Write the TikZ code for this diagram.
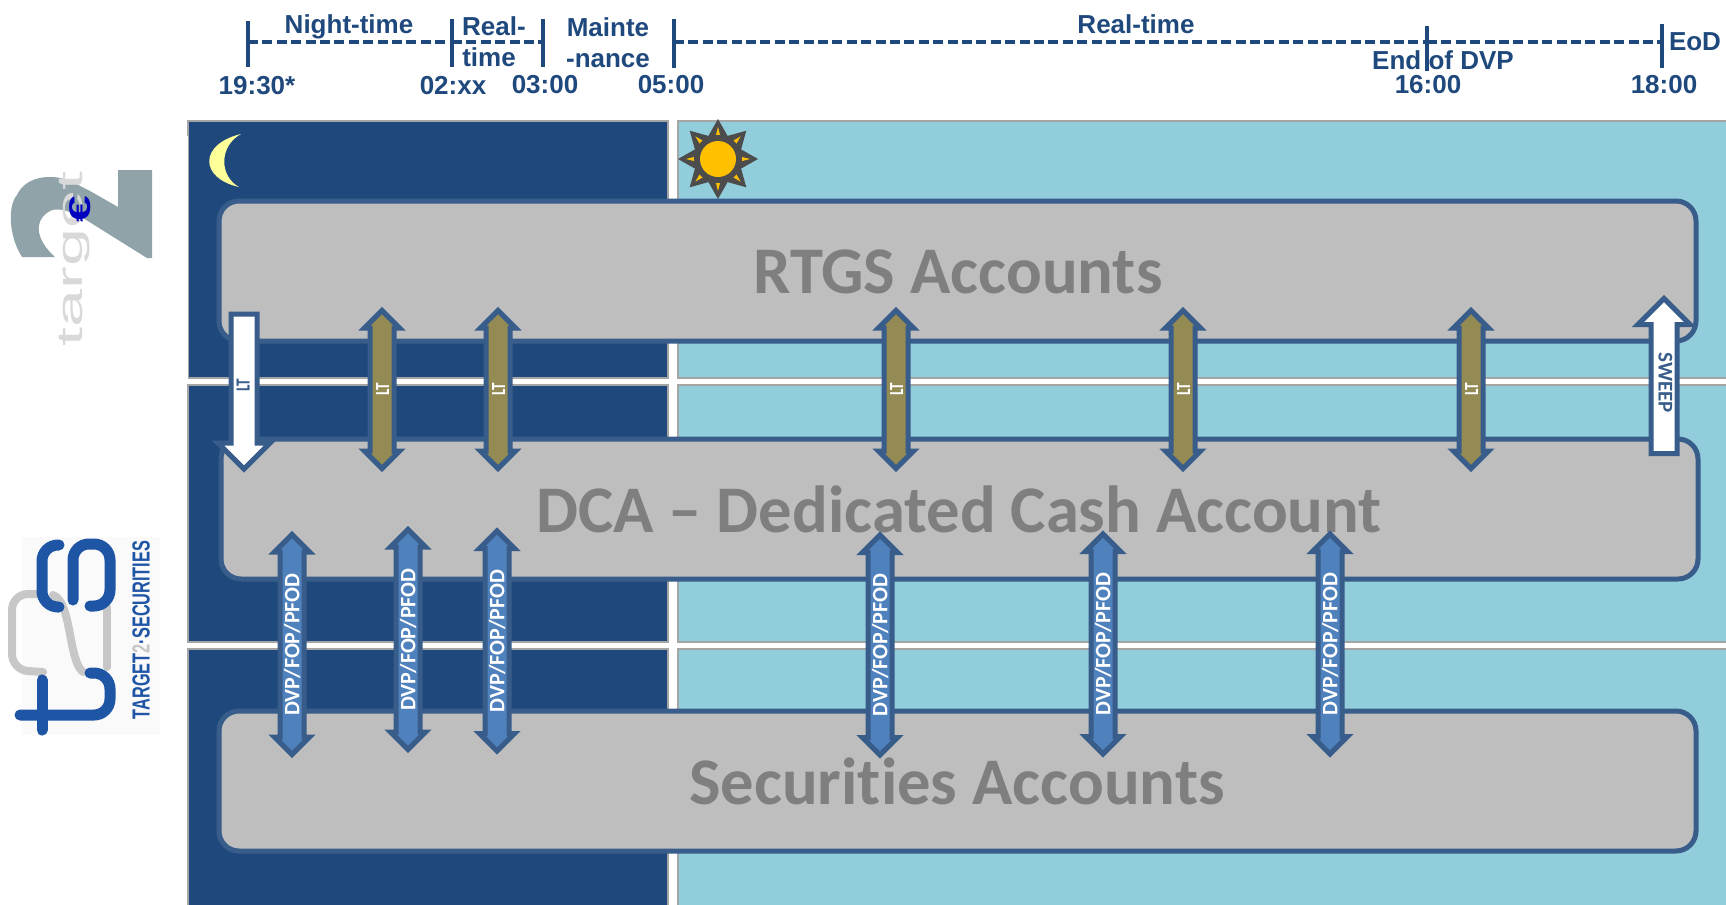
\documentclass[tikz,border=0pt]{standalone}
\usepackage{fontspec}
\setmainfont{Liberation Sans}
\newfontfamily\calfont[Ligatures=NoCommon]{Carlito}
\usetikzlibrary{shapes.arrows,shapes.geometric}
\definecolor{nightblue}{HTML}{1F497D}
\definecolor{dayblue}{HTML}{92CDDC}
\definecolor{edgegrey}{HTML}{A5A5A5}
\definecolor{boxgrey}{HTML}{BEBEBE}
\definecolor{boxline}{HTML}{385D8A}
\definecolor{boxtext}{HTML}{7F7F7F}
\definecolor{goldfill}{HTML}{948A54}
\definecolor{bluefill}{HTML}{4F81BD}
\definecolor{logogrey}{HTML}{8FA3A8}
\definecolor{logoblue}{HTML}{1F55A5}
\definecolor{moonyellow}{HTML}{FFFF99}
\definecolor{sunyellow}{HTML}{FFC000}
\begin{document}
\begin{tikzpicture}[x=0.5pt, y=-0.5pt,
    night/.style = {draw=edgegrey, line width=1.25pt, fill=nightblue},
    day/.style = {draw=edgegrey, line width=1.25pt, fill=dayblue},
    account/.style = {draw=boxline, fill=boxgrey, line width=2.5pt, rounded corners=10pt, minimum width=738.5pt, minimum height=70pt, inner sep=0pt},
    accountname/.style = {font=\calfont\bfseries\fontsize{33.3}{33.3}\selectfont, text=boxtext, inner sep=0pt},
    timetext/.style = {font=\bfseries\fontsize{13}{13}\selectfont, text=nightblue, inner sep=0pt},
    dashline/.style = {draw=nightblue, line width=1.6pt, dash pattern=on 5pt off 2.2pt},
    tickline/.style = {draw=nightblue, line width=1.8pt},
    ltboth/.style = {double arrow, draw=boxline, line width=2.5pt, fill=goldfill, rotate=90, double arrow head extend=2.75pt, minimum height=79pt, inner sep=0pt, text height=8.25pt, text depth=1.25pt, text=white, font=\calfont\bfseries\fontsize{10}{10}\selectfont},
    dvpboth/.style = {double arrow, draw=boxline, line width=2.5pt, fill=bluefill, rotate=90, double arrow head extend=2.75pt, minimum height=110pt, inner sep=0pt, text height=8.4pt, text depth=1.1pt, text=white, font=\calfont\bfseries\fontsize{11}{11}\selectfont},
    whitearrow/.style = {single arrow, draw=boxline, line width=2.5pt, fill=white, shape border rotate=180, single arrow head extend=6.5pt, minimum height=77.5pt, inner sep=0pt, text height=8pt, text depth=2.5pt, text=boxline, font=\calfont\bfseries}
    ]
    \useasboundingbox (0,0) rectangle (1726,905);

    \draw[night] (188,121) rectangle (668,378);
    \fill[white] (180,136) rectangle (188,379);
    \draw[day] (678,121) rectangle (1740,378);
    \draw[night] (188,385) rectangle (668,642);
    \draw[day] (678,385) rectangle (1740,642);
    \draw[night] (188,649) rectangle (668,920);
    \draw[day] (678,649) rectangle (1740,920);

    \coordinate (t0) at (248,42);
    \coordinate (t1) at (452,42);
    \coordinate (t2) at (543,42);
    \coordinate (t3) at (674,42);
    \coordinate (t4) at (1427,42);
    \coordinate (t5) at (1662,42);
    \draw[dashline] (t0) -- (t1);
    \draw[dashline] (t1) -- (t2);
    \draw[dashline] (t3) -- (t4);
    \draw[dashline] (t4) -- (t5);

    \node[timetext] (night) at (349,27) {Night-time};
    \node[timetext] (real1) at (494,26) {Real-};
    \node[timetext] (real2) at (489,57) {time};
    \node[timetext] (maint1) at (608,27) {Mainte};
    \node[timetext] (maint2) at (608,61) {-nance};
    \node[timetext] (real3) at (1136,24) {Real-time};
    \node[timetext] (dvpend) at (1443,60) {End of DVP};
    \node[timetext] (eod) at (1695,42) {EoD};
    \node[timetext] (h1930) at (257,86) {19:30*};
    \node[timetext] (h02) at (453,86) {02:xx};
    \node[timetext] (h03) at (545,85) {03:00};
    \node[timetext] (h05) at (671,85) {05:00};
    \node[timetext] (h16) at (1428,85) {16:00};
    \node[timetext] (h18) at (1664,85) {18:00};

    \draw[tickline] ([yshift=10.5pt]t0) -- ([yshift=-12.5pt]t0);
    \draw[tickline] ([yshift=11.5pt]t1) -- ([yshift=-12.5pt]t1);
    \draw[tickline] ([yshift=11.5pt]t2) -- ([yshift=-12.5pt]t2);
    \draw[tickline] ([yshift=11.5pt]t3) -- ([yshift=-13pt]t3);
    \draw[tickline] ([yshift=8pt]t4) -- ([yshift=-14.5pt]t4);
    \draw[tickline] ([yshift=9pt]t5) -- ([yshift=-13pt]t5);

    \fill[moonyellow] (241,134) .. controls (199,144) and (199,178) .. (239,187) .. controls (219,176) and (219,146) .. (241,134);

    \node[star, star points=8, star point ratio=1.6, minimum size=40pt, inner sep=0pt, fill=black!70] (sunrays) at (718,159) {};
    \node[star, star points=8, star point ratio=2.4, minimum size=32pt, inner sep=0pt, fill=sunyellow] (sunspots) at (718,159) {};
    \node[circle, minimum size=24pt, inner sep=0pt, fill=black!70] (sunring) at (718,159) {};
    \node[circle, minimum size=18pt, inner sep=0pt, fill=sunyellow] (sundisc) at (718,159) {};

    \node[account] (rtgs) at (957.5,271) {};
    \node[account] (dca) at (959.5,509) {};
    \node[account] (sec) at (957.5,781) {};
    \node[accountname] (rtgsname) at (958,272) {RTGS Accounts};
    \node[accountname] (dcaname) at (959,509) {DCA – Dedicated Cash Account};
    \node[accountname] (secname) at (957,781) {Securities Accounts};

    \node[whitearrow, rotate=90, anchor=tail] (lt0) at (244,311.5) {\fontsize{10}{10}\selectfont\scalebox{0.76}[1]{LT}};
    \node[ltboth] (lt1) at (382,389.5) {\scalebox{0.76}[1]{LT}};
    \node[ltboth] (lt2) at (498,389.5) {\scalebox{0.76}[1]{LT}};
    \node[ltboth] (lt3) at (896,389.5) {\scalebox{0.76}[1]{LT}};
    \node[ltboth] (lt4) at (1183,389.5) {\scalebox{0.76}[1]{LT}};
    \node[ltboth] (lt5) at (1471,389.5) {\scalebox{0.76}[1]{LT}};
    \node[whitearrow, rotate=-90, anchor=tail] (sweep) at (1664,456) {\fontsize{10.5}{10.5}\selectfont SWEEP};

    \node[dvpboth] (dvp1) at (292,644.5) {DVP/FOP/PFOD};
    \node[dvpboth] (dvp2) at (408,639.5) {DVP/FOP/PFOD};
    \node[dvpboth] (dvp3) at (497,641) {DVP/FOP/PFOD};
    \node[dvpboth] (dvp4) at (880,645) {DVP/FOP/PFOD};
    \node[dvpboth] (dvp5) at (1103,644) {DVP/FOP/PFOD};
    \node[dvpboth] (dvp6) at (1330,644) {DVP/FOP/PFOD};

    \fill[logogrey] (118,170) -- (152,170) -- (152,258) -- (147,258) -- (83,218) .. controls (72,212) and (55,205) .. (47,213) .. controls (34,222) and (36,240) .. (55,257) -- (22,257) .. controls (8,235) and (8,205) .. (17,195) .. controls (25,178) and (45,175) .. (60,178) .. controls (70,180) and (80,186) .. (90,191) -- (118,207) -- cycle;
    \node[rotate=90, inner sep=0pt, text=black!15, font=\fontsize{18}{18}\selectfont] (tgtname) at (75,259) {\scalebox{1.9}[1]{target}};
    \node[rotate=90, inner sep=0pt, text=blue!75!black, font=\bfseries\fontsize{15}{15}\selectfont] (euro) at (80,209) {\scalebox{1.6}[1]{€}};

    \fill[black!2] (22,537) rectangle (160,735);
    \draw[black!22, line width=4pt, line cap=round] (107,607) -- (107,667);
    \draw[black!22, line width=4pt, line cap=round, rounded corners=8pt] (43,594) -- (12,594) -- (12,670) -- (43,672);
    \draw[black!22, line width=4pt, line cap=round] (53,595) .. controls (72,602) and (68,660) .. (83,672);
    \draw[logoblue, line width=5.5pt, line cap=round, rounded corners=8pt] (59,545) -- (42,545) -- (42,607) -- (59,607);
    \draw[logoblue, line width=5.5pt, line cap=round, rounded corners=8pt] (73,600) -- (73,544) -- (110,544) -- (110,606) -- (90,606);
    \draw[logoblue, line width=5.5pt, line cap=round, rounded corners=8pt] (20,715) -- (110,715) -- (110,673) -- (90,673);
    \draw[logoblue, line width=5.5pt, line cap=round] (42,680) -- (42,730);
    \node[rotate=90, inner sep=0pt, text=logoblue, font=\bfseries\fontsize{9.5}{9.5}\selectfont] (tsname) at (141,630) {\scalebox{0.86}[1.3]{TARGET\textcolor{black!22}{2}·SECURITIES}};
\end{tikzpicture}
\end{document}
